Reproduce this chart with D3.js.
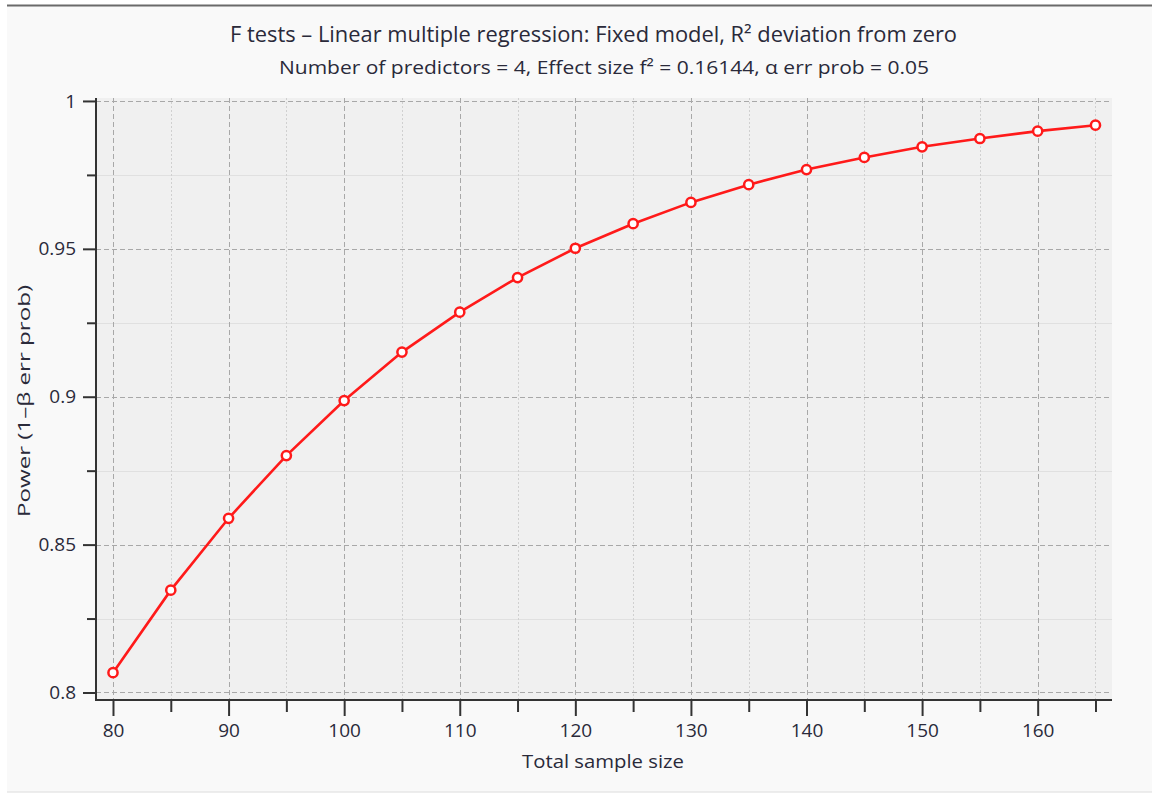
<!DOCTYPE html>
<html>
<head>
<meta charset="utf-8">
<script src="https://cdn.jsdelivr.net/npm/d3@7"></script>
<style>
  body { margin: 0; background: #ffffff; }
  svg { display: block; }
  text { font-family: "Open Sans", sans-serif; fill: #2a2a3a; }
</style>
</head>
<body>
<div id="chart"></div>
<script>
// data
const sampleSizes = [80, 85, 90, 95, 100, 105, 110, 115, 120, 125, 130, 135, 140, 145, 150, 155, 160, 165];
const power = [0.8067, 0.8346, 0.8589, 0.8801, 0.8987, 0.9151, 0.9286, 0.9403, 0.9502, 0.9585,
               0.9657, 0.9717, 0.9768, 0.9809, 0.9845, 0.9873, 0.9898, 0.9918];
const xMajorTicks = [80, 90, 100, 110, 120, 130, 140, 150, 160];
const xMinorTicks = [85, 95, 105, 115, 125, 135, 145, 155, 165];
const yMajorTicks = [0.8, 0.85, 0.9, 0.95, 1];
const yMinorTicks = [0.825, 0.875, 0.925, 0.975];
const yTickLabels = ["0.8", "0.85", "0.9", "0.95", "1"];

const title = "F tests \u2013 Linear multiple regression: Fixed model, R\u00b2 deviation from zero";
const subtitle = "Number of predictors = 4, Effect size f\u00b2 = 0.16144, \u03b1 err prob = 0.05";
const xLabel = "Total sample size";
const yLabel = "Power (1\u2013\u03b2 err prob)";

const W = 1152, H = 793;
const plot = { left: 96, right: 1112, top: 98, bottom: 700 };

const svg = d3.select("#chart")
    .append("svg")
    .attr("width", W)
    .attr("height", H);

// panel
svg.append("rect")
    .attr("x", 7).attr("y", 5)
    .attr("width", W - 7).attr("height", 787)
    .attr("fill", "#f9f9f9");
svg.append("line")
    .attr("x1", 7).attr("x2", W).attr("y1", 5.5).attr("y2", 5.5)
    .attr("stroke", "#6a6a6a").attr("stroke-width", 2);
svg.append("line")
    .attr("x1", 7).attr("x2", W).attr("y1", 792).attr("y2", 792)
    .attr("stroke", "#dcdcdc").attr("stroke-width", 1);

const x = d3.scaleLinear().domain([78.53, 166.43]).range([plot.left, plot.right]);
const y = d3.scaleLinear().domain([0.79746, 1.001]).range([plot.bottom, plot.top]);

svg.append("rect")
    .attr("x", plot.left).attr("y", plot.top)
    .attr("width", plot.right - plot.left).attr("height", plot.bottom - plot.top)
    .attr("fill", "#f0f0f0");

// grid
const grid = svg.append("g");
grid.selectAll(".yminor").data(yMinorTicks).join("line")
    .attr("x1", plot.left).attr("x2", plot.right)
    .attr("y1", d => Math.round(y(d)) + 0.5).attr("y2", d => Math.round(y(d)) + 0.5)
    .attr("stroke", "#e0e0e0").attr("stroke-width", 1);
grid.selectAll(".xminor").data(xMinorTicks).join("line")
    .attr("x1", d => Math.round(x(d)) + 0.5).attr("x2", d => Math.round(x(d)) + 0.5)
    .attr("y1", plot.top).attr("y2", plot.bottom)
    .attr("stroke", "#d0d0d0").attr("stroke-width", 1)
    .attr("stroke-dasharray", "2,2");
grid.selectAll(".xmajor").data(xMajorTicks).join("line")
    .attr("x1", d => Math.round(x(d)) + 0.5).attr("x2", d => Math.round(x(d)) + 0.5)
    .attr("y1", plot.top).attr("y2", plot.bottom)
    .attr("stroke", "#a8a8a8").attr("stroke-width", 1)
    .attr("stroke-dasharray", "5,3");
grid.selectAll(".ymajor").data(yMajorTicks).join("line")
    .attr("x1", plot.left).attr("x2", plot.right)
    .attr("y1", d => Math.round(y(d)) + 0.5).attr("y2", d => Math.round(y(d)) + 0.5)
    .attr("stroke", "#a8a8a8").attr("stroke-width", 1)
    .attr("stroke-dasharray", "5,3");

// axes
const xAxis = svg.append("g")
    .attr("transform", `translate(0,${plot.bottom})`)
    .call(d3.axisBottom(x).tickValues(xMajorTicks).tickSize(16).tickPadding(8).tickSizeOuter(0));
const xMinor = svg.append("g")
    .attr("transform", `translate(0,${plot.bottom})`)
    .call(d3.axisBottom(x).tickValues(xMinorTicks).tickSize(12).tickFormat("").tickSizeOuter(0));
const yAxis = svg.append("g")
    .attr("transform", `translate(${plot.left},0)`)
    .call(d3.axisLeft(y).tickValues(yMajorTicks).tickSize(13).tickPadding(7).tickSizeOuter(0)
        .tickFormat((d, i) => yTickLabels[i]));
const yMinor = svg.append("g")
    .attr("transform", `translate(${plot.left},0)`)
    .call(d3.axisLeft(y).tickValues(yMinorTicks).tickSize(9).tickFormat("").tickSizeOuter(0));

[xAxis, xMinor, yAxis, yMinor].forEach(g => {
    g.select(".domain").remove();
    g.selectAll(".tick line").attr("stroke", "#333").attr("stroke-width", 2);
    g.selectAll(".tick text").style("font-family", "Open Sans, sans-serif")
        .style("font-size", "19px").attr("fill", "#2a2a3a");
});

svg.append("line")
    .attr("x1", plot.left).attr("x2", plot.left)
    .attr("y1", plot.top).attr("y2", plot.bottom + 1)
    .attr("stroke", "#333").attr("stroke-width", 2);
svg.append("line")
    .attr("x1", plot.left - 1).attr("x2", plot.right)
    .attr("y1", plot.bottom).attr("y2", plot.bottom)
    .attr("stroke", "#333").attr("stroke-width", 2);

// series
const pts = sampleSizes.map((n, i) => ({ n: n, p: power[i] }));
svg.append("path")
    .datum(pts)
    .attr("fill", "none")
    .attr("stroke", "#ff1a1a")
    .attr("stroke-width", 2.6)
    .attr("d", d3.line().x(d => x(d.n)).y(d => y(d.p)));
svg.selectAll(".pt").data(pts).join("circle")
    .attr("cx", d => x(d.n)).attr("cy", d => y(d.p))
    .attr("r", 4.6)
    .attr("fill", "#ffffff")
    .attr("stroke", "#ff1a1a")
    .attr("stroke-width", 2.5);

// texts
svg.append("text")
    .attr("x", 230).attr("y", 42)
    .attr("textLength", 727).attr("lengthAdjust", "spacingAndGlyphs")
    .style("font-size", "21px")
    .text(title);
svg.append("text")
    .attr("x", 279).attr("y", 74)
    .attr("textLength", 650).attr("lengthAdjust", "spacingAndGlyphs")
    .style("font-size", "19px")
    .text(subtitle);
svg.append("text")
    .attr("x", 522).attr("y", 768)
    .attr("textLength", 162).attr("lengthAdjust", "spacingAndGlyphs")
    .style("font-size", "19px")
    .text(xLabel);
svg.append("text")
    .attr("transform", "translate(30,517) rotate(-90)")
    .attr("textLength", 232).attr("lengthAdjust", "spacingAndGlyphs")
    .style("font-size", "17px")
    .text(yLabel);
</script>
</body>
</html>
